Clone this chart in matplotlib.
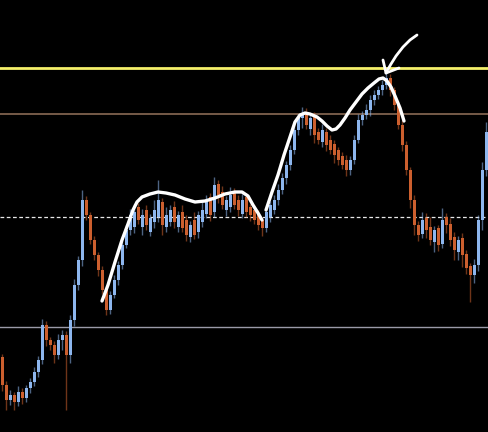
import matplotlib
matplotlib.use("Agg")
import matplotlib.pyplot as plt
import numpy as np

# ---- data (price units) ----
opens = [75, 47, 32, 37, 30, 40, 34, 44, 50, 60, 72, 107, 92, 87, 77, 92, 97, 77, 112, 147,
         172, 232, 217, 192, 177, 162, 142, 122, 137, 152, 167, 187, 202, 205, 225, 205, 222, 200, 210, 215,
         230, 205, 210, 225, 205, 220, 212, 195, 212, 200, 210, 218, 235, 220, 248, 240, 222, 225, 240, 232,
         218, 235, 225, 222, 218, 212, 204, 215, 222, 232, 242, 254, 267, 282, 302, 314, 318, 303, 315, 300,
         290, 300, 292, 288, 282, 276, 272, 262, 272, 292, 312, 317, 322, 332, 337, 342, 347, 354, 342, 327,
         307, 287, 262, 232, 207, 198, 214, 205, 190, 204, 188, 215, 208, 195, 180, 194, 178, 166, 157, 167,
         212, 262]
closes = [47, 32, 37, 30, 40, 34, 44, 50, 60, 72, 107, 92, 87, 77, 92, 97, 77, 112, 147, 172,
          232, 217, 192, 177, 162, 142, 122, 137, 152, 167, 187, 202, 217, 220, 212, 217, 207, 214, 222, 232,
          207, 217, 222, 210, 217, 204, 197, 207, 197, 217, 222, 232, 217, 247, 237, 227, 232, 237, 227, 222,
          232, 220, 217, 212, 207, 204, 220, 227, 232, 242, 254, 267, 282, 302, 314, 317, 307, 314, 297, 292,
          302, 287, 282, 277, 272, 267, 262, 272, 292, 312, 317, 322, 332, 337, 342, 347, 354, 342, 327, 307,
          287, 262, 232, 207, 197, 212, 202, 192, 202, 187, 212, 207, 192, 182, 192, 177, 164, 157, 167, 212,
          262, 300]
upper = [3, 4, 5, 3, 6, 4, 3, 4, 5, 4, 6, 4, 3, 4, 6, 5, 4, 5, 6, 4,
         10, 4, 3, 4, 3, 4, 3, 4, 5, 4, 4, 5, 6, 8, 4, 6, 5, 4, 10, 20,
         4, 8, 5, 6, 4, 7, 5, 4, 8, 4, 10, 5, 4, 8, 4, 6, 4, 8, 4, 5,
         6, 4, 3, 5, 4, 3, 4, 4, 5, 6, 5, 4, 5, 6, 4, 8, 6, 4, 5, 4,
         6, 4, 5, 4, 3, 4, 5, 4, 5, 6, 4, 6, 5, 5, 4, 5, 6, 4, 3, 4,
         5, 4, 3, 5, 4, 8, 5, 10, 4, 3, 12, 4, 6, 5, 4, 5, 4, 3, 6, 5,
         8, 10]
lower = [6, 10, 5, 8, 4, 6, 4, 5, 4, 5, 4, 6, 5, 8, 4, 10, 55, 8, 6, 5,
         6, 5, 4, 5, 6, 4, 5, 4, 3, 5, 4, 3, 5, 6, 4, 8, 5, 4, 6, 5,
         10, 5, 4, 6, 5, 4, 6, 5, 4, 6, 5, 4, 6, 5, 8, 4, 6, 5, 4, 6,
         4, 5, 6, 4, 5, 8, 4, 5, 4, 5, 4, 6, 5, 4, 5, 10, 4, 6, 8, 4,
         5, 6, 4, 8, 5, 4, 6, 5, 4, 3, 5, 4, 6, 5, 4, 5, 4, 6, 5, 4,
         6, 5, 8, 10, 6, 4, 8, 5, 10, 6, 4, 8, 6, 10, 8, 12, 6, 27, 8, 6,
         10, 6]

# horizontal levels
level_yellow = 364
level_brown = 318
level_dashed = 215
level_gray = 105

# hand-drawn annotation strokes (candle index, price)
stroke1_x = [25, 26.5, 28.25, 30, 31.5, 32.75, 33.75, 35, 37, 39, 41, 43.25, 45.75, 48.25,
             50.75, 53.25, 55.75, 58.25, 60, 61.5, 62.75, 64, 65]
stroke1_y = [131, 147, 170, 192, 208, 222, 230, 235, 238, 240, 239, 237, 233, 230,
             231, 234, 238, 240, 240, 236, 227, 219, 212]
stroke2_x = [66, 67.5, 69, 70.5, 72, 73.25, 74.5, 75.75, 77, 78.75, 80, 81.25, 82.5, 83.5,
             84.5, 85.75, 87, 88.5, 90, 91.5, 93, 94.25, 95.25, 96.25, 97.25, 98.25, 99.5, 100.5]
stroke2_y = [222, 240, 257, 277, 295, 310, 317, 319, 318, 315, 311, 306, 302, 303,
             307, 314, 322, 330, 338, 344, 349, 353, 354, 351, 345, 336, 324, 311]
arrow_x = [103.75, 102, 100.25, 98.5, 97.25, 96.25, 96]
arrow_y = [397, 392, 385, 376, 368, 361, 359]
barb_x = [95.25, 96, 99.25]
barb_y = [372, 359, 364]

# ---- drawing ----
up_color = "#8db6ee"
down_color = "#cc5f2e"

fig = plt.figure(figsize=(4.88, 4.32), dpi=100, facecolor="black")
ax = fig.add_axes([0, 0, 1, 1])
ax.set_facecolor("black")

n = len(closes)
x = np.arange(n)

ax.axhline(level_gray, color="#9a9aa8", lw=1.0, zorder=1)
ax.axhline(level_brown, color="#8a6a55", lw=1.2, zorder=1)
ax.axhline(level_dashed, color="#e8e8e8", lw=0.9, ls=(0, (3, 2)), zorder=1)
ax.axhline(level_yellow, color="#f4f06a", lw=2.0, zorder=1)

for i in range(n):
    o, c = opens[i], closes[i]
    col = up_color if c >= o else down_color
    top, bot = max(o, c), min(o, c)
    ax.vlines(x[i], bot - lower[i], top + upper[i], color=col, lw=1.0, alpha=0.55, zorder=2)
    h = max(top - bot, 1.5)
    ax.bar(x[i], h, bottom=bot, width=0.75, color=col, edgecolor="none", zorder=3)

for xs, ys, lw in [(stroke1_x, stroke1_y, 2.4), (stroke2_x, stroke2_y, 2.4),
                   (arrow_x, arrow_y, 2.0), (barb_x, barb_y, 2.0)]:
    ax.plot(xs, ys, color="white", lw=lw, solid_capstyle="round",
            solid_joinstyle="round", zorder=5)

ax.set_xlim(-0.5, n - 0.5)
ax.set_ylim(0, 432)
ax.axis("off")

fig.savefig("out.png", dpi=100, facecolor="black")
